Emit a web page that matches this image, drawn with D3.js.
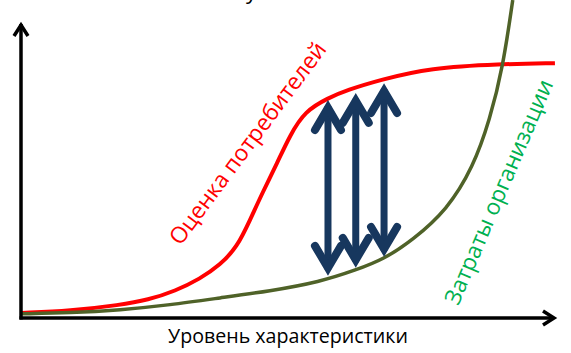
<!DOCTYPE html>
<html>
<head>
<meta charset="utf-8">
<script src="https://cdn.jsdelivr.net/npm/d3@7"></script>
<style>
  html, body { margin: 0; padding: 0; background: #fff; }
  svg { display: block; }
</style>
</head>
<body>
<div id="chart"></div>
<script>
// curve values (x: 0..100 level, y: 0..100 value)
const consumerX = [0.0, 9.0, 18.4, 23.6, 28.7, 33.3, 37.1, 40.3, 42.7, 45.1, 47.8, 50.2, 53.0, 57.3, 60.9, 67.0, 76.4, 89.5, 99.8];
const consumerY = [1.7, 2.4, 4.4, 6.1, 9.1, 13.2, 17.9, 24.0, 33.1, 42.6, 52.4, 61.8, 69.9, 74.3, 77.0, 80.4, 84.5, 85.8, 86.1];
const costX = [0.0, 9.0, 18.4, 27.7, 37.1, 46.4, 55.8, 62.5, 67.8, 73.2, 79.6, 84.5, 87.6, 90.1, 91.9];
const costY = [1.4, 1.7, 2.7, 4.4, 6.8, 9.1, 12.2, 16.2, 19.9, 26.4, 36.5, 51.0, 66.9, 85.1, 107.4];

// the three gap arrows
const arrowX = [57.3, 62.5, 67.8];
const arrowTop = [74.0, 76.4, 79.7];
const arrowBottom = [13.9, 16.6, 20.3];

const labels = {
  consumer: "Оценка потребителей",
  cost: "Затраты организации",
  xAxis: "Уровень характеристики"
};

const width = 571, height = 353;
const x0 = 21, y0 = 318;

const x = d3.scaleLinear().domain([0, 100]).range([22, 556]);
const y = d3.scaleLinear().domain([0, 100]).range([318, 22]);

const svg = d3.select("#chart").append("svg")
  .attr("width", width)
  .attr("height", height)
  .style("font-family", "'Open Sans', sans-serif");

// fragment of a title above the frame
svg.append("text")
  .attr("x", 246).attr("y", -1)
  .attr("font-size", 22)
  .text("у");

const line = d3.line()
  .x(d => x(d[0]))
  .y(d => y(d[1]))
  .curve(d3.curveBasis);

svg.append("path")
  .datum(d3.zip(consumerX, consumerY))
  .attr("d", line)
  .attr("fill", "none")
  .attr("stroke", "#ff0000")
  .attr("stroke-width", 4);

svg.append("path")
  .datum(d3.zip(costX, costY))
  .attr("d", line)
  .attr("fill", "none")
  .attr("stroke", "#4f6228")
  .attr("stroke-width", 3.5);

// axes with open arrow heads
const axes = svg.append("g")
  .attr("fill", "none")
  .attr("stroke", "#000")
  .attr("stroke-width", 3.5)
  .attr("stroke-linecap", "butt")
  .attr("stroke-linejoin", "miter");

axes.append("path").attr("d", `M${x0},${y0 + 1.5}V${y(100) + 2}`);
axes.append("path").attr("d", `M${x0 - 1.5},${y0}H${x(100) - 2}`);
axes.append("path").attr("d", `M${x0 - 7},${y(100) + 14}L${x0},${y(100) + 3}L${x0 + 7},${y(100) + 14}`);
axes.append("path").attr("d", `M${x(100) - 13},${y0 - 7}L${x(100) - 2},${y0}L${x(100) - 13},${y0 + 7}`);

// double-headed arrows between the curves
const arrows = svg.append("g")
  .attr("fill", "none")
  .attr("stroke", "#17375e")
  .attr("stroke-linecap", "round")
  .attr("stroke-linejoin", "miter");

arrowX.forEach((ax, i) => {
  const px = x(ax);
  const top = y(arrowTop[i]) + 9;
  const bottom = y(arrowBottom[i]) - 9;
  arrows.append("path")
    .attr("stroke-width", 7)
    .attr("d", `M${px},${top}V${bottom}`);
  arrows.append("path")
    .attr("stroke-width", 8)
    .attr("d", `M${px - 13},${top + 22}L${px},${top}L${px + 13},${top + 22}`);
  arrows.append("path")
    .attr("stroke-width", 8)
    .attr("d", `M${px - 13},${bottom - 22}L${px},${bottom}L${px + 13},${bottom - 22}`);
});

// rotated labels, sized to span their length
function fitLabel(text, cx, cy, angle, len, color) {
  const t = svg.append("text")
    .attr("text-anchor", "middle")
    .attr("fill", color)
    .attr("font-size", 20)
    .attr("transform", `translate(${cx},${cy}) rotate(${angle})`)
    .text(text);
  const w = t.node().getComputedTextLength();
  t.attr("font-size", 20 * len / w);
  return t;
}

fitLabel(labels.consumer, 254, 148, -53.3, 246, "#ff0000");
fitLabel(labels.cost, 506, 195, -66.8, 242, "#00b050");

const xl = svg.append("text")
  .attr("x", 288).attr("y", 343)
  .attr("text-anchor", "middle")
  .attr("font-size", 18)
  .attr("fill", "#000")
  .text(labels.xAxis);
const xw = xl.node().getComputedTextLength();
xl.attr("font-size", 18 * 240 / xw);
</script>
</body>
</html>
